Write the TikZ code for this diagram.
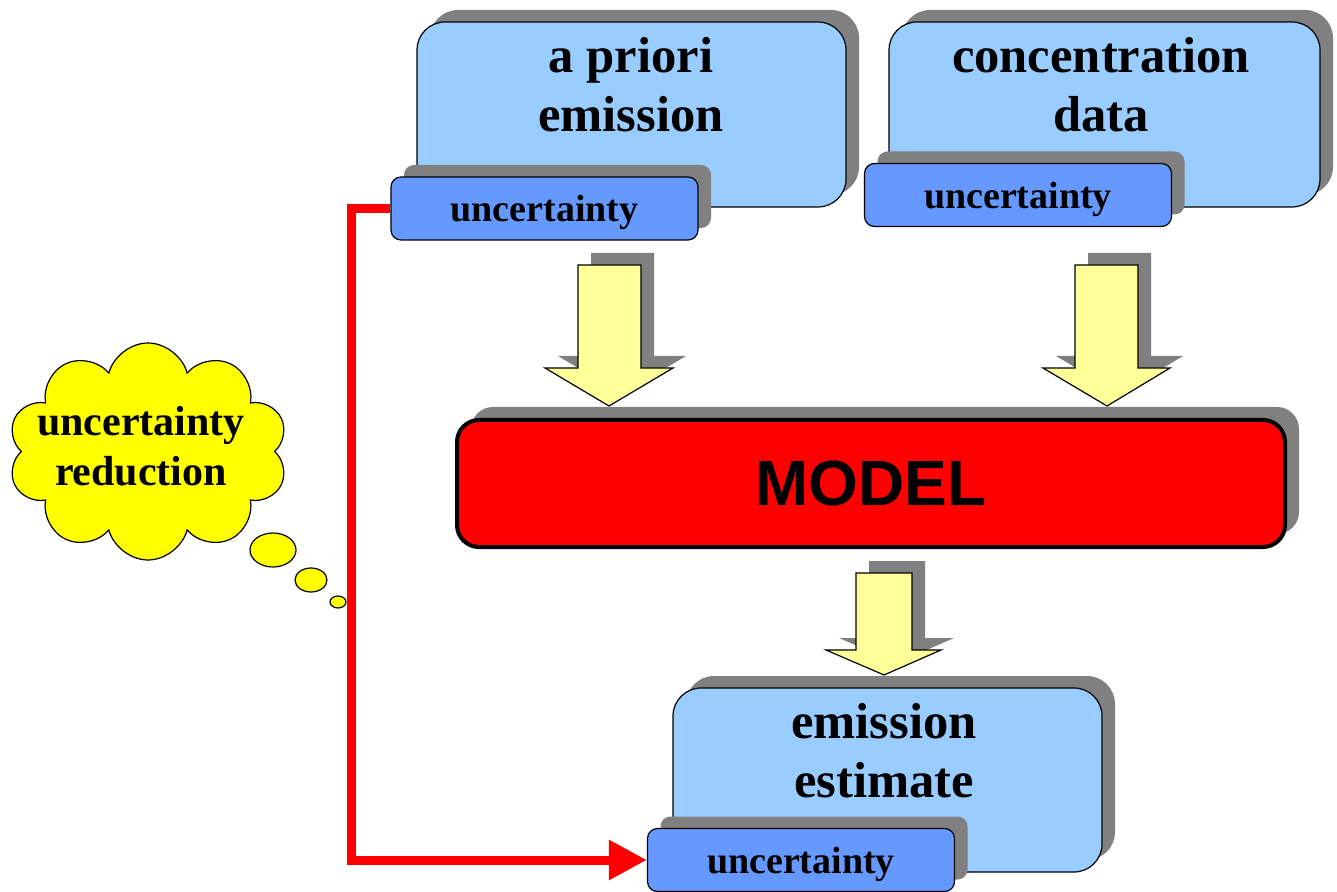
\documentclass[tikz,border=0pt]{standalone}
\usepackage{fontspec}
\setmainfont{Liberation Serif}
\setsansfont{Liberation Sans}
\usetikzlibrary{shadows,shapes.symbols,shapes.geometric,arrows.meta}
\definecolor{boxblue}{HTML}{99CCFF}
\definecolor{uncblue}{HTML}{6699FF}
\definecolor{shadowgray}{HTML}{808080}
\definecolor{lightyellow}{HTML}{FFFF99}
\definecolor{cloudyellow}{HTML}{FFFF00}
\begin{document}
\begin{tikzpicture}[x=0.5pt,y=-0.5pt,
  shadowed/.style={drop shadow={shadow xshift=6.5pt,shadow yshift=6pt,fill=shadowgray,opacity=1}},
  bigbox/.style={shadowed,draw=black,line width=0.6pt,fill=boxblue,rounded corners=14pt,
    minimum width=214.5pt,minimum height=92.5pt,inner sep=0pt},
  uncbox/.style={shadowed,draw=black,line width=0.6pt,fill=uncblue,rounded corners=5pt,
    minimum width=153.5pt,minimum height=31.5pt,inner sep=0pt,text depth=0pt,
    font=\fontsize{19}{22}\selectfont\bfseries},
  bigtext/.style={align=center,inner sep=0pt,font=\fontsize{25.3}{29.5}\selectfont\bfseries},
  yarrow/.style={shadowed,draw=black,line width=0.6pt,fill=lightyellow,line join=miter},
  modelbox/.style={drop shadow={shadow xshift=7pt,shadow yshift=6.5pt,fill=shadowgray,opacity=1},
    draw=black,line width=2pt,fill=red,rounded corners=11pt,
    minimum width=414pt,minimum height=63.5pt,inner sep=0pt,
    font=\sffamily\bfseries\fontsize{32}{36}\selectfont},
  redline/.style={draw=red,line width=4.5pt,-{Triangle[length=19pt,width=19pt]}},
  cloudbox/.style={cloud,cloud puffs=10,aspect=1.3,draw=black,line width=0.6pt,fill=cloudyellow,
    minimum width=140pt,minimum height=108.5pt,inner sep=0pt},
  cloudtext/.style={align=center,inner sep=0pt,font=\fontsize{21}{25}\selectfont\bfseries},
  bubble/.style={ellipse,draw=black,line width=0.6pt,fill=cloudyellow,inner sep=0pt}
]
\useasboundingbox (0,0) rectangle (1337,892);

% thought cloud
\node[cloudbox] (cloud) at (148,451.5) {};
\node[cloudtext] (cloudtxt) at (141,446) {uncertainty\\reduction};
\node[bubble,minimum width=23pt,minimum height=17pt] (bub1) at (273,550) {};
\node[bubble,minimum width=16pt,minimum height=12pt] (bub2) at (311,580) {};
\node[bubble,minimum width=8pt,minimum height=6pt] (bub3) at (338,602) {};

% boxes
\node[bigbox] (apriori) at (631.5,114.5) {};
\node[bigtext] (aprioritxt) at (631,85) {a priori\\emission};
\node[uncbox] (u1) at (544.5,208.5) {uncertainty};

\node[bigbox,minimum width=215.5pt] (conc) at (1104.5,114.5) {};
\node[bigtext] (conctxt) at (1101,85) {concentration\\data};
\node[uncbox] (u2) at (1018,195) {uncertainty};

% block arrows
\filldraw[yarrow] (578,265) -- (641,265) -- (641,368) -- (673,368) -- (609,406)
  -- (545,368) -- (578,368) -- cycle;
\filldraw[yarrow] (1075,265) -- (1138,265) -- (1138,368) -- (1170,368) -- (1107,406)
  -- (1043,368) -- (1075,368) -- cycle;

% model
\node[modelbox] (model) at (871,483.5) {MODEL};

\filldraw[yarrow] (856,573) -- (912,573) -- (912,650) -- (941,650) -- (884,675)
  -- (826,650) -- (856,650) -- cycle;

% result
\node[bigbox,minimum height=92pt] (estimate) at (887.5,780) {};
\node[bigtext] (estimatetxt) at (884,751) {emission\\estimate};
\node[uncbox] (u3) at (801,860) {uncertainty};

% red connector
\draw[redline] (u1.west) -- ++(-39,0) |- (u3.west);
\end{tikzpicture}
\end{document}
